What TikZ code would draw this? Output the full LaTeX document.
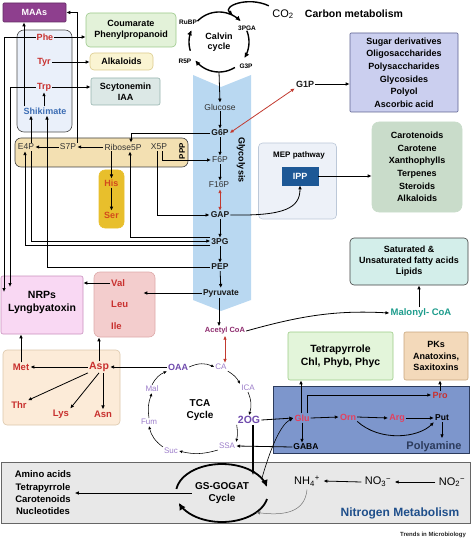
\documentclass[tikz,border=0pt]{standalone}
\usepackage{fontspec}
\setmainfont{Liberation Sans}
\usetikzlibrary{arrows.meta,calc,positioning,shapes.geometric}

\newcommand{\fsz}[2]{\fontsize{#1}{#2}\selectfont}

\definecolor{maaC}{HTML}{8E3F8E}
\definecolor{shikF}{HTML}{EAF0FA}
\definecolor{aaRed}{HTML}{C8302E}
\definecolor{shikBlue}{HTML}{3C6DB4}
\definecolor{coumF}{HTML}{E3F2D9}
\definecolor{coumD}{HTML}{9CC98A}
\definecolor{alkF}{HTML}{FAF4D2}
\definecolor{alkD}{HTML}{DCCB8C}
\definecolor{scyF}{HTML}{DCE8E6}
\definecolor{scyD}{HTML}{95B3AE}
\definecolor{pppF}{HTML}{F3E0B2}
\definecolor{hisF}{HTML}{E8BF2C}
\definecolor{hisT}{HTML}{D24A1C}
\definecolor{glyF}{HTML}{B9D8F1}
\definecolor{sugF}{HTML}{CBCFEF}
\definecolor{sugD}{HTML}{5D6290}
\definecolor{carF}{HTML}{C9DCCA}
\definecolor{mepF}{HTML}{EDF1F8}
\definecolor{mepD}{HTML}{BCC8D8}
\definecolor{ippF}{HTML}{1D5896}
\definecolor{satF}{HTML}{D3EEEA}
\definecolor{malC}{HTML}{1D9C8C}
\definecolor{acC}{HTML}{8E2C6E}
\definecolor{vliF}{HTML}{F3CDCD}
\definecolor{vliD}{HTML}{DDA9A9}
\definecolor{nrpF}{HTML}{F9D8F3}
\definecolor{nrpD}{HTML}{C990BD}
\definecolor{aspF}{HTML}{FCEBD8}
\definecolor{aspD}{HTML}{DCC7AB}
\definecolor{tcaC}{HTML}{9B7CC9}
\definecolor{tcaD}{HTML}{6E49AC}
\definecolor{tetF}{HTML}{E3F5DA}
\definecolor{tetD}{HTML}{9CCB86}
\definecolor{pksF}{HTML}{F3D9BA}
\definecolor{pksD}{HTML}{C8A57C}
\definecolor{polyF}{HTML}{7D96CC}
\definecolor{polyD}{HTML}{2C3B5C}
\definecolor{gluC}{HTML}{E4405E}
\definecolor{nitF}{HTML}{E8E8E8}
\definecolor{nitB}{HTML}{1F4F8B}
\definecolor{redA}{HTML}{C23A30}

\tikzset{
  pane/.style={rectangle, rounded corners=4pt, line width=0.6pt,
               inner sep=2pt, align=center},
  boxlbl/.style={pane, font=\bfseries\fsz{9}{11}},
  met/.style={inner sep=1pt, font=\fsz{8.5}{10}, text=black!80},
  metb/.style={inner sep=1pt, font=\bfseries\fsz{8.5}{10}, text=black!90},
  amino/.style={inner sep=1pt, font=\bfseries\fsz{9.5}{11}, text=aaRed},
  tca/.style={inner sep=1pt, font=\fsz{8}{9}, text=tcaC},
  cal/.style={inner sep=0.5pt, font=\bfseries\fsz{6.5}{7}},
  arr/.style={-{Latex[length=4pt,width=3.6pt]}, line width=0.8pt},
  dbl/.style={{Latex[length=4pt,width=3.6pt]}-{Latex[length=4pt,width=3.6pt]},
              line width=0.8pt, draw=redA},
  tarr/.style={-{Latex[length=3.2pt,width=3pt]}, line width=0.55pt},
  cyc/.style={-{Latex[length=5pt,width=5pt]}, line width=1.4pt},
  gsarr/.style={-{Latex[length=7pt,width=7pt]}, line width=1.8pt}
}

\begin{document}
\begin{tikzpicture}[x=1pt,y=-1pt]
  \useasboundingbox (0,0) rectangle (474,540);

  % background panes
  \node[pane, fill=nitF, draw=black!60, rounded corners=0pt,
        minimum width=469pt, minimum height=61pt] (nitbox) at (235.5,492.5) {};
  \node[pane, fill=shikF, draw=black!70, rounded corners=7pt,
        minimum width=55pt, minimum height=102pt] (shikbox) at (44.5,81) {};
  \node[pane, fill=pppF, draw=black!75, rounded corners=6pt,
        minimum width=173pt, minimum height=29pt] (pppbox) at (101.5,152.5) {};
  \node[pane, fill=hisF, draw=hisF, rounded corners=6pt,
        minimum width=25pt, minimum height=58pt] (hisbox) at (111.5,199) {};
  \node[pane, fill=vliF, draw=vliD, rounded corners=6pt,
        minimum width=61pt, minimum height=65pt] (vli) at (124.5,304.5) {};
  \node[pane, fill=nrpF, draw=nrpD, rounded corners=2pt,
        minimum width=82pt, minimum height=58pt] (nrpbox) at (42,305) {};
  \node[pane, fill=aspF, draw=aspD, rounded corners=4pt,
        minimum width=117pt, minimum height=75pt] (aspbox) at (61.5,387.5) {};
  \node[pane, fill=mepF, draw=mepD, minimum width=78pt,
        minimum height=76pt] (mepbox) at (297.5,181) {};
  \node[pane, fill=polyF, draw=polyD, rounded corners=0pt,
        minimum width=196pt, minimum height=67pt] (polybox) at (371,419.5) {};

  % glycolysis band
  \fill[glyF] (193,75) -- (221,87) -- (251,75) -- (251,300)
              -- (221,311) -- (193,300) -- cycle;
  \node[rotate=-90, font=\bfseries\fsz{9}{10}] (glylbl) at (241,160) {Glycolysis};

  % product boxes
  \node[boxlbl, fill=maaC, draw=maaC!70!black, text=white, rounded corners=1pt,
        minimum width=63pt, minimum height=19pt] (maas) at (34.5,12.5) {MAAs};
  \node[boxlbl, fill=coumF, draw=coumD, minimum width=90pt,
        minimum height=34pt] (coum) at (131,30) {Coumarate\\Phenylpropanoid};
  \node[boxlbl, fill=alkF, draw=alkD, minimum width=63pt,
        minimum height=17pt] (alk) at (121.5,61.5) {Alkaloids};
  \node[boxlbl, fill=scyF, draw=scyD, rounded corners=2pt, minimum width=69pt,
        minimum height=27pt] (scy) at (125.5,91.5) {Scytonemin\\IAA};
  \node[boxlbl, fill=sugF, draw=sugD, rounded corners=1pt,
        font=\bfseries\fsz{9}{12.6}, minimum width=108pt,
        minimum height=79pt] (sugar) at (404,72.5)
        {Sugar derivatives\\Oligosaccharides\\Polysaccharides\\Glycosides\\Polyol\\Ascorbic acid};
  \node[boxlbl, fill=carF, draw=carF, rounded corners=7pt,
        font=\bfseries\fsz{9}{12.6}, minimum width=90pt,
        minimum height=90pt] (caro) at (417,167)
        {Carotenoids\\Carotene\\Xanthophylls\\Terpenes\\Steroids\\Alkaloids};
  \node[boxlbl, fill=satF, draw=black!75, minimum width=118pt,
        minimum height=47pt] (sat) at (409,261.5)
        {Saturated \&\\Unsaturated fatty acids\\Lipids};
  \node[boxlbl, fill=tetF, draw=tetD, rounded corners=2pt,
        font=\bfseries\fsz{10.5}{13}, minimum width=105pt,
        minimum height=48pt] (tetra) at (340.5,356) {Tetrapyrrole\\Chl, Phyb, Phyc};
  \node[boxlbl, fill=pksF, draw=pksD, rounded corners=2pt,
        font=\bfseries\fsz{9}{11.5}, minimum width=64pt,
        minimum height=48pt] (pks) at (436,356) {PKs\\Anatoxins,\\Saxitoxins};
  \node[boxlbl, fill=ippF, draw=ippF, text=white, rounded corners=0pt,
        minimum width=36pt, minimum height=18pt] (ipp) at (300,176) {IPP};

  % titles
  \node[font=\bfseries\fsz{10.5}{12}] (cmet) at (354,14) {Carbon metabolism};
  \node[font=\bfseries\fsz{8}{9}] (meplbl) at (299,155) {MEP pathway};
  \node[font=\bfseries\fsz{11}{12}, text=polyD] (polylbl) at (434,447) {Polyamine};
  \node[font=\bfseries\fsz{12}{13}, text=nitB] (nitlbl) at (400,513) {Nitrogen Metabolism};
  \node[font=\bfseries\fsz{6}{7}, text=black!85] (journal) at (433,535) {Trends in Microbiology};

  % shikimate group
  \node[amino, font=\bfseries\fsz{9}{10}] (phe) at (45,37) {Phe};
  \node[amino, font=\bfseries\fsz{9}{10}] (tyr) at (44,62) {Tyr};
  \node[amino, font=\bfseries\fsz{9}{10}] (trp) at (44,87) {Trp};
  \node[amino, font=\bfseries\fsz{9}{10}, text=shikBlue] (shik) at (45,111) {Shikimate};

  % pentose phosphate pathway
  \node[met] (e4p) at (26,147) {E4P};
  \node[met] (s7p) at (68,147) {S7P};
  \node[met] (rib) at (123,147) {Ribose5P};
  \node[met] (x5p) at (159,147) {X5P};
  \node[rotate=90, font=\bfseries\fsz{8}{9}] (ppp) at (182,151) {PPP};
  \node[amino, text=hisT, font=\bfseries\fsz{9}{10}] (his) at (111.5,183) {His};
  \node[amino, text=hisT, font=\bfseries\fsz{9}{10}] (ser) at (111.5,215) {Ser};

  % Calvin cycle
  \node[font=\bfseries\fsz{9}{10.5}, align=center] (calvin) at (219,42) {Calvin\\cycle};
  \node[cal] (rubp) at (188,22) {RuBP};
  \node[cal] (pga) at (247,28) {3PGA};
  \node[cal] (g3p) at (246,66) {G3P};
  \node[cal] (r5p) at (185,61) {R5P};
  \node[font=\fsz{11}{12}] (co2) at (283,14) {CO\textsubscript{2}};

  % glycolysis
  \node[met] (glc) at (220,107) {Glucose};
  \node[metb] (g6p) at (220,133) {G6P};
  \node[met] (f6p) at (220,160) {F6P};
  \node[met] (f16p) at (219,185) {F16P};
  \node[metb] (gap) at (220,215) {GAP};
  \node[metb] (pg3) at (220,242) {3PG};
  \node[metb] (pep) at (220,267) {PEP};
  \node[metb] (pyr) at (221,293) {Pyruvate};
  \node[metb, font=\bfseries\fsz{9}{10}] (g1p) at (305,84) {G1P};
  \node[inner sep=1pt, font=\bfseries\fsz{7.5}{9}, text=acC] (acoa) at (225,331) {Acetyl CoA};
  \node[inner sep=1pt, font=\bfseries\fsz{9.5}{11}, text=malC] (malo) at (421,313) {Malonyl- CoA};

  % branched chain / aspartate
  \node[amino, anchor=west] (val) at (110,283) {Val};
  \node[amino, anchor=west] (leu) at (110,304) {Leu};
  \node[amino, anchor=west] (ile) at (110,326) {Ile};
  \node[font=\bfseries\fsz{10.5}{13}, align=center] (nrp) at (42,302) {NRPs\\Lyngbyatoxin};
  \node[amino] (metn) at (21,367) {Met};
  \node[amino, font=\bfseries\fsz{10.5}{12}] (asp) at (99,367) {Asp};
  \node[amino] (thr) at (19,405) {Thr};
  \node[amino] (lys) at (61,414) {Lys};
  \node[amino] (asn) at (103,414) {Asn};

  % TCA cycle
  \node[font=\bfseries\fsz{10}{12}, align=center] (tcalbl) at (200,410) {TCA\\Cycle};
  \node[tca, font=\bfseries\fsz{9}{10}, text=tcaD] (oaa) at (178,367) {OAA};
  \node[tca] (ca) at (221,367) {CA};
  \node[tca] (ica) at (248,388) {ICA};
  \node[tca, font=\bfseries\fsz{10.5}{12}, text=tcaD] (og2) at (249,420) {2OG};
  \node[tca] (ssa) at (227,446) {SSA};
  \node[tca] (suc) at (171,451) {Suc};
  \node[tca] (fum) at (149,422) {Fum};
  \node[tca] (mal) at (152,389) {Mal};

  % polyamine
  \node[amino, text=gluC, font=\bfseries\fsz{9}{10}] (glu) at (302,418) {Glu};
  \node[amino, text=gluC, font=\bfseries\fsz{9}{10}] (orn) at (348,417) {Orn};
  \node[amino, text=gluC, font=\bfseries\fsz{9}{10}] (arg) at (397,418) {Arg};
  \node[amino, text=aaRed, font=\bfseries\fsz{9}{10}] (pro) at (440,395) {Pro};
  \node[metb, text=black] (put) at (442,418) {Put};
  \node[metb, text=black] (gaba) at (306,447) {GABA};

  % nitrogen
  \node[font=\bfseries\fsz{10}{12}, align=center] (gsg) at (222,493) {GS-GOGAT\\Cycle};
  \node[font=\bfseries\fsz{9.5}{12.3}, align=center] (aa) at (43,493)
        {Amino acids\\Tetrapyrrole\\Carotenoids\\Nucleotides};
  \node[font=\fsz{11}{12}] (nh4) at (307,481) {NH\textsubscript{4}\textsuperscript{+}};
  \node[font=\fsz{11}{12}] (no3) at (378,482) {NO\textsubscript{3}\textsuperscript{−}};
  \node[font=\fsz{11}{12}] (no2) at (452,482) {NO\textsubscript{2}\textsuperscript{−}};

  % Calvin cycle arcs
  \draw[cyc, shift={(calvin)}] plot[smooth, domain=224:316, samples=24] (\x:30);
  \draw[cyc, shift={(calvin)}] plot[smooth, domain=338:392, samples=16] (\x:30);
  \draw[cyc, shift={(calvin)}] plot[smooth, domain=58:142, samples=24] (\x:30);
  \draw[cyc, shift={(calvin)}] plot[smooth, domain=163:203, samples=12] (\x:30);
  \draw[cyc] (co2.north west) .. controls (248,-4) and (222,6) .. ($(calvin)+(298:30)$);
  \draw[arr] ($(calvin)+(90:30)$) -- (glc.north);

  % shikimate arrows
  \draw[arr] (shik.north -| 24,0) -- (24,0 |- maas.south);
  \draw[arr] (shik.north -| trp.south) -- (trp.south);
  \draw[arr] (phe.east) -- (phe.east -| coum.west);
  \draw[arr] (tyr.east) -- (tyr.east -| alk.west);
  \draw[arr] (trp.east) -- (trp.east -| scy.west);
  \draw[arr] (phe.west) -| (4,292);
  \draw[arr] (trp.west) -| (10,287);
  \draw[arr] (s7p.north east) |- (maas.east);

  % pentose phosphate arrows
  \draw[arr] (s7p.west) -- (e4p.east);
  \draw[arr] (rib.west) -- (s7p.east);
  \draw[arr] (e4p.north -| 31,0) -- (31,0 |- shik.south);
  \draw[arr] (his.north |- rib.south) -- (his.north);
  \draw[arr] (his.south) -- (ser.north);
  \draw[arr] (g6p.west) -| ([xshift=8pt]rib.north);
  \draw[arr] ([xshift=3pt]x5p.south) |- (f6p.west);
  \draw[arr] ([xshift=-2pt]x5p.south) |- (gap.west);
  \draw[arr] ([yshift=5pt]pg3.west) -| (130,0 |- rib.south);
  \draw[arr] ([yshift=-3pt]pg3.west) -| (25,0 |- e4p.south);
  \draw[arr] (31,0 |- e4p.south) |- ([yshift=1pt]pg3.west);
  \draw[arr] (pep.west) -| (47,0 |- shik.south);

  % glycolysis arrows
  \draw[arr] (glc) -- (g6p);
  \draw[arr] (g6p) -- (f6p);
  \draw[arr] (f6p) -- (f16p.north -| f6p.south);
  \draw[dbl] (f16p.south -| f6p.south) -- (gap.north);
  \draw[arr] (gap) -- (pg3);
  \draw[arr] (pg3) -- (pep);
  \draw[arr] (pep) -- (pyr);
  \draw[arr] (pyr.south -| 219,0) -- (219,0 |- acoa.north);
  \draw[dbl] (g6p.east) -- (g1p.south west);
  \draw[arr] (g1p.east) -- (g1p.east -| sugar.west);
  \draw[arr] (gap.east) .. controls (285,216) and (300,208) .. (ipp.south);
  \draw[arr] (ipp.east) -- (ipp.east -| caro.west);
  \draw[arr] (acoa.east) .. controls (300,316) and (335,310) .. (malo.west);
  \draw[arr] (malo.north -| 419,0) -- (419,0 |- sat.south);

  % amino acid arrows
  \draw[arr] (pyr.west) -- ([xshift=-12pt]pyr.west -| vli.east);
  \draw[arr] (val.west) -- (val.west -| nrpbox.east);
  \draw[arr] (metn.north) -- (metn.north |- nrpbox.south);
  \draw[arr] (asp.west) -- (metn.east);
  \draw[arr] (asp.north) -- (asp.north |- vli.south);
  \draw[arr] (asp.south west) -- (thr.north east);
  \draw[arr] (asp.south) -- (lys.north east);
  \draw[arr] (asp.south -| asn.north) -- (asn.north);
  \draw[arr] (oaa.west) -- (asp.east);
  \draw[dbl] (acoa.south) -- (ca.north -| acoa.south);

  % TCA cycle arrows
  \draw[tarr] (oaa.east) to[bend left=25] (ca.west);
  \draw[tarr] (ca.south east) to[bend left=15] (ica.north west);
  \draw[tarr] (ica.south) to[bend left=20] (og2.north);
  \draw[tarr] (og2.south west) to[bend left=10] (ssa.north east);
  \draw[tarr] (ssa.south west) to[bend left=15] (suc.east);
  \draw[tarr] (suc.north west) to[bend left=20] (fum.south);
  \draw[tarr] (fum.north) to[bend left=15] (mal.south);
  \draw[tarr] (mal.north) to[bend left=20] (oaa.south west);

  % polyamine arrows
  \draw[arr] (og2.east) -- (glu.west);
  \draw[arr] ([xshift=-1pt]glu.north) -- ([xshift=-1pt]glu.north |- tetra.south);
  \draw[arr] ([xshift=5pt]glu.north) |- (pro.west);
  \draw[arr] (pro.north) -- (pro.north |- pks.south);
  \draw[arr] (glu.east) -- (orn.west);
  \draw[arr] (orn.east) -- (arg.west);
  \draw[arr] (arg.east) -- (put.west);
  \draw[arr] (orn.south east) .. controls (380,442) and (418,438) .. (put.south west);
  \draw[arr] (put.south) -- (put.south |- polylbl.north);
  \draw[arr] (glu.south) -- (glu.south |- gaba.north);
  \draw[arr] (gaba.west) -- (ssa.east);

  % nitrogen metabolism
  \draw[gsarr, shift={(gsg)}] plot[smooth, domain=188:348, samples=30] (\x:46 and 29);
  \draw[gsarr, shift={(gsg)}] plot[smooth, domain=12:160, samples=30] (\x:46 and 29);
  \draw[arr, line width=1.2pt] ([xshift=4pt]og2.south) -- ([xshift=4pt]og2.south |- 0,475);
  \draw[arr, line width=0.6pt] ($(gsg)+(330:46 and 29)$) .. controls (270,450) and (280,425) .. (glu.west);
  \draw[arr] (gsg.west) -- (aa.east);
  \draw[arr] (no2.west) -- (no3.east);
  \draw[arr] (no3.west) -- (nh4.east);
  \draw[arr, line width=0.5pt, draw=black!55] (nh4.south) .. controls (305,512) and (285,516) .. ($(gsg)+(42:46 and 29)$);
\end{tikzpicture}
\end{document}
